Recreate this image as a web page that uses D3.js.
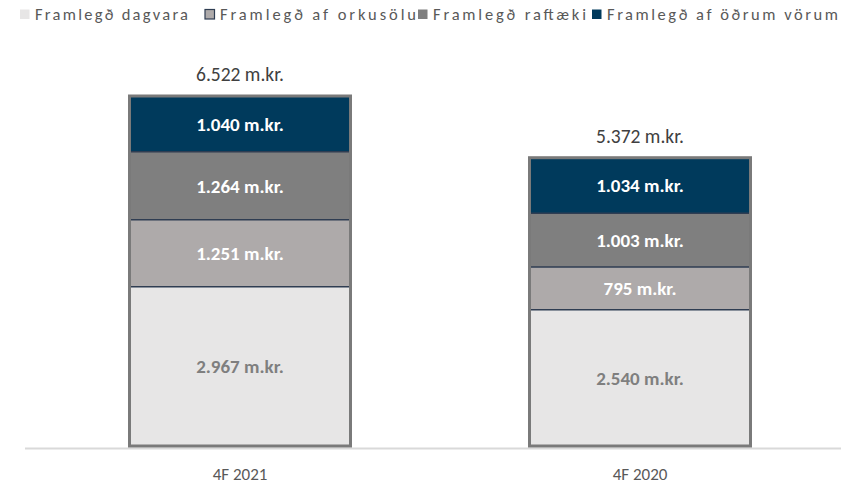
<!DOCTYPE html>
<html><head><meta charset="utf-8">
<script src="https://cdn.jsdelivr.net/npm/d3@7"></script>
<style>body{margin:0;background:#fff}svg{display:block}text{font-family:Carlito,Lato,"Open Sans",sans-serif}</style>
</head><body><svg id="c" width="841" height="484"></svg>
<script>
const categories = ["4F 2021", "4F 2020"];
const seriesNames = ["Framlegð dagvara", "Framlegð af orkusölu", "Framlegð raftæki", "Framlegð af öðrum vörum"];
const dagvara = [2967, 2540];
const orkusolu = [1251, 795];
const raftaeki = [1264, 1003];
const odrum = [1040, 1034];
const totals = [6522, 5372];
const colors = ["#e7e6e6", "#aeaaaa", "#7f7f7f", "#003a5c"];
const legendX = [20, 205, 418, 592];
const legendW = [153, 196, 153, 231];

const fmt = v => d3.format(",")(v).replace(/,/g, ".") + " m.kr.";
const series = [dagvara, orkusolu, raftaeki, odrum];
const table = categories.map((c, i) => {
  const o = {cat: c};
  seriesNames.forEach((s, j) => o[s] = series[j][i]);
  return o;
});
const stack = d3.stack().keys(seriesNames)(table);

const svg = d3.select("#c");
const x = d3.scaleBand().domain(categories).range([40, 840]).paddingInner(0.4475).paddingOuter(0.22375);
const y = d3.scaleLinear().domain([0, 6522]).range([446, 96]);

// axis line
const xAxis = d3.axisBottom(x).tickSize(0).tickPadding(0);
const ax = svg.append("g").attr("transform", "translate(0,448.5)").call(xAxis);
ax.select(".domain").attr("stroke", "#d9d9d9").attr("stroke-width", 2).attr("d", "M25,0H841");
ax.selectAll("text").attr("dy", null).attr("y", 31).attr("font-size", 17).attr("fill", "#595959")
  .attr("font-family", "Carlito,Lato,sans-serif");

// segments
stack.forEach((layer, j) => {
  svg.append("g").selectAll("rect").data(layer).join("rect")
    .attr("x", d => x(d.data.cat)).attr("width", x.bandwidth())
    .attr("y", d => y(d[1])).attr("height", d => y(d[0]) - y(d[1]))
    .attr("fill", colors[j]);
});
// separators
stack.slice(1).forEach(layer => {
  svg.append("g").selectAll("line").data(layer).join("line")
    .attr("x1", d => x(d.data.cat)).attr("x2", d => x(d.data.cat) + x.bandwidth())
    .attr("y1", d => y(d[0])).attr("y2", d => y(d[0]))
    .attr("stroke", "#2f3d52").attr("stroke-width", 1.5);
});
// outer border
svg.append("g").selectAll("rect").data(categories).join("rect")
  .attr("x", d => x(d)).attr("width", x.bandwidth())
  .attr("y", (d, i) => y(totals[i])).attr("height", (d, i) => y(0) - y(totals[i]))
  .attr("fill", "none").attr("stroke", "#7a7a7a").attr("stroke-width", 3);

// segment labels
stack.forEach((layer, j) => {
  svg.append("g").selectAll("text").data(layer).join("text")
    .attr("x", d => x(d.data.cat) + x.bandwidth() / 2)
    .attr("y", d => (y(d[0]) + y(d[1])) / 2)
    .attr("dy", "0.36em").attr("text-anchor", "middle")
    .attr("font-size", 19).attr("font-weight", "bold")
    .attr("fill", j === 0 ? "#7f7f7f" : "#ffffff")
    .text(d => fmt(d[1] - d[0]));
});
// totals
svg.append("g").selectAll("text").data(categories).join("text")
  .attr("x", d => x(d) + x.bandwidth() / 2)
  .attr("y", (d, i) => y(totals[i]) - 15)
  .attr("text-anchor", "middle")
  .attr("font-size", 19.5).attr("fill", "#404040")
  .text((d, i) => fmt(totals[i]));

// legend
const lg = svg.append("g");
seriesNames.forEach((s, j) => {
  lg.append("rect").attr("x", legendX[j]).attr("y", 9.5).attr("width", 9.5).attr("height", 9.5)
    .attr("fill", colors[j]).attr("stroke", j === 1 ? "#2f3d52" : "none").attr("stroke-width", 1.2);
  lg.append("text").attr("x", legendX[j] + 15).attr("y", 20)
    .attr("font-size", 16.5).attr("fill", "#595959")
    .attr("textLength", legendW[j]).attr("lengthAdjust", "spacing")
    .text(s);
});
</script></body></html>
